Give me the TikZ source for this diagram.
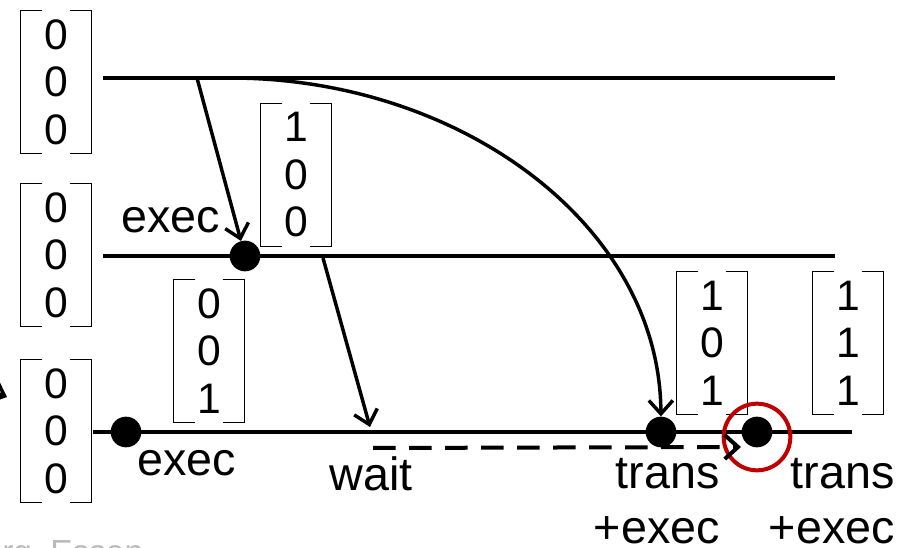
\documentclass[tikz,border=0pt]{standalone}
\usepackage{fontspec}
\setmainfont{Liberation Sans}
\usetikzlibrary{
  arrows.meta,
  positioning
}
\definecolor{darkred}{HTML}{C00000}
\tikzset{
  timeline/.style={line width=3.5pt},
  vclock/.style={
    minimum width=53pt,
    minimum height=107pt,
    inner sep=0pt,
    align=center,
    font=\fontsize{32}{35.6}\selectfont
  },
  bracket/.style={line width=1.2pt},
  event/.style={circle, fill=black, minimum size=23pt, inner sep=0pt},
  msg/.style={-{Straight Barb[length=10pt, width=18pt]}, line width=2.6pt},
  waitmsg/.style={msg, line width=3pt, dash pattern=on 17pt off 10pt},
  lbl/.style={font=\fontsize{35}{41}\selectfont, inner sep=0pt},
  highlight/.style={circle, draw=darkred, line width=3pt, minimum size=50pt, inner sep=0pt},
  footer/.style={font=\fontsize{25}{30}\selectfont, text=gray!55, inner sep=0pt}
}
\newcommand{\vclock}[5]{%
  \node[vclock] (#1) at (#2) {#3\\#4\\#5};
  \draw[bracket] ([xshift=16.5pt]#1.north west) -| (#1.south west) -- ++(16.5pt,0);
  \draw[bracket] ([xshift=-16.5pt]#1.north east) -| (#1.south east) -- ++(-16.5pt,0);
}

\begin{document}
\begin{tikzpicture}[x=0.75pt, y=-0.75pt]
  \clip (0,0) rectangle (906,548);

  % process lines
  \coordinate (p1s) at (103,78);  \coordinate (p1e) at (835,78);
  \coordinate (p2s) at (103,256); \coordinate (p2e) at (835,256);
  \coordinate (p3s) at (93,432);  \coordinate (p3e) at (852,432);
  \draw[timeline] (p1s) -- (p1e);
  \draw[timeline] (p2s) -- (p2e);
  \draw[timeline] (p3s) -- (p3e);

  % vector clocks
  \vclock{v1}{56,82}{0}{0}{0}
  \vclock{v2}{56,255}{0}{0}{0}
  \vclock{v3}{56,431}{0}{0}{0}
  \vclock{v4}{296,175}{1}{0}{0}
  \vclock{v5}{209,351}{0}{0}{1}
  \vclock{v6}{712,343}{1}{0}{1}
  \vclock{v7}{848,343}{1}{1}{1}

  % events
  \node[event] (e1) at (245,256) {};
  \node[event] (e2) at (126,432) {};
  \node[event] (e3) at (661,432) {};
  \node[event] (e4) at (757,432) {};
  \node[highlight] (hl) at (757,437) {};

  % messages
  \coordinate (m1s) at (197,78);
  \coordinate (m2s) at (230,78);
  \coordinate (m3s) at (323,258);
  \coordinate (m3e) at (370,427);
  \coordinate (ws) at (373,448);
  \coordinate (we) at (741,447);
  \draw[msg] (m1s) -- (e1);
  \draw[msg] (m2s) .. controls (460,78) and (660,225) .. (e3);
  \draw[msg] (m3s) -- (m3e);
  \draw[waitmsg] (ws) -- (we);

  \coordinate (fs) at (-40,378);
  \coordinate (ft) at (7,397);
  \draw[msg] (fs) -- (ft);

  % labels
  \node[lbl, anchor=base] (x1) at (171,233) {exec};
  \node[lbl, anchor=base] (x2) at (187,475) {exec};
  \node[lbl, anchor=base] (wt) at (371,490) {wait};
  \node[lbl, align=right, anchor=base east] (t1) at (720,543) {trans\\+exec};
  \node[lbl, align=right, anchor=base east] (t2) at (895,543) {trans\\+exec};

  \node[footer, anchor=base west] (foot) at (2,563) {rg, Essen};
\end{tikzpicture}
\end{document}
